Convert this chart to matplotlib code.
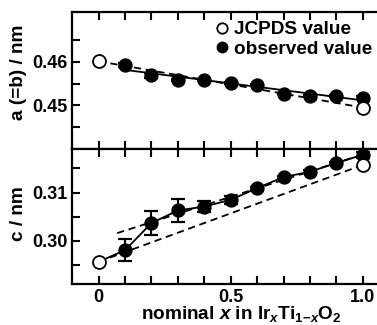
import numpy as np
import matplotlib
matplotlib.use("Agg")
import matplotlib.pyplot as plt
from matplotlib.lines import Line2D

plt.rcParams['font.family'] = ['Liberation Sans', 'DejaVu Sans']
plt.rcParams['font.weight'] = 'bold'
plt.rcParams['mathtext.fontset'] = 'custom'
plt.rcParams['mathtext.rm'] = 'Liberation Sans:bold'
plt.rcParams['mathtext.it'] = 'Liberation Sans:bold:italic'
plt.rcParams['mathtext.bf'] = 'Liberation Sans:bold'

# ---- data ----
x_obs = [0.1, 0.2, 0.3, 0.4, 0.5, 0.6, 0.7, 0.8, 0.9, 1.0]
a_obs = [0.4592, 0.4569, 0.4558, 0.4558, 0.4552, 0.4547, 0.4527, 0.4522, 0.4521, 0.4518]
a_err = [0.0005, 0.0006, 0.0003, 0.0003, 0.0002, 0.0002, 0.0002, 0.0002, 0.0002, 0.0003]
c_obs = [0.2981, 0.3037, 0.3063, 0.3071, 0.3085, 0.3109, 0.3132, 0.3143, 0.3161, 0.3178]
c_err = [0.0022, 0.0025, 0.0024, 0.0012, 0.0008, 0.0003, 0.0003, 0.0003, 0.0003, 0.0006]
x_jcpds = [0.0, 1.0]
a_jcpds = [0.4601, 0.4495]
c_jcpds = [0.2957, 0.3157]
legend_labels = ['JCPDS value', 'observed value']

x_obs = np.array(x_obs)
fig = plt.figure(figsize=(3.77, 3.25), dpi=100)
L, R = 72/377, 1.0
ax1 = fig.add_axes([L, 1-149/325, R-L, (149-12)/325])
ax2 = fig.add_axes([L, 1-284/325, R-L, (284-149)/325])

lw = 1.3
ms = 9.3
dash = (0, (4, 2.6))

# top panel
ax1.plot(x_jcpds, a_jcpds, color='black', lw=lw, ls=dash, zorder=1)
p = np.polyfit(x_obs, a_obs, 1)
xs = np.array([x_obs[0], x_obs[-1]])
ax1.plot(xs, np.polyval(p, xs), color='black', lw=lw, zorder=1)
ax1.errorbar(x_obs, a_obs, yerr=a_err, fmt='o', color='black', ms=ms,
             capsize=5.2, elinewidth=1.5, capthick=1.6, zorder=3)
ax1.plot(x_jcpds, a_jcpds, 'o', mfc='white', mec='black', mew=1.3, ms=ms, zorder=4)

# bottom panel
ax2.plot(x_jcpds, c_jcpds, color='black', lw=lw, ls=dash, zorder=1)
pc = np.polyfit(x_obs[1:], c_obs[1:], 1)
xs2 = np.array([0.07, 1.0])
ax2.plot(xs2, np.polyval(pc, xs2), color='black', lw=lw, ls=dash, zorder=1)
ax2.plot([x_jcpds[0]] + list(x_obs), [c_jcpds[0]] + list(c_obs), color='black', lw=lw, zorder=1)
ax2.errorbar(x_obs, c_obs, yerr=c_err, fmt='o', color='black', ms=ms,
             capsize=5.2, elinewidth=1.5, capthick=1.6, zorder=3)
ax2.plot(x_jcpds, c_jcpds, 'o', mfc='white', mec='black', mew=1.3, ms=ms, zorder=4)

for ax in (ax1, ax2):
    ax.set_xlim(-0.101, 1.054)
    ax.set_xticks([0, 0.5, 1.0])
    ax.set_xticks(np.arange(0, 1.01, 0.1), minor=True)
    ax.tick_params(which='both', direction='in', top=True, right=False, width=1.5,
                   labelsize=13, length=6)
    ax.spines['right'].set_visible(False)
    for s in ('left', 'top', 'bottom'):
        ax.spines[s].set_linewidth(1.6)

ax1.set_ylim(0.440, 0.4714)
ax1.set_yticks([0.45, 0.46])
ax1.set_yticks([0.445, 0.455, 0.465], minor=True)
ax1.set_yticklabels(['0.45', '0.46'])
ax1.tick_params(labelbottom=False)
ax1.set_ylabel('a (=b) / nm', fontsize=13.7, fontweight='bold')
ax1.yaxis.set_label_coords(-0.148, 0.562)

ax2.set_ylim(0.2911, 0.319)
ax2.set_yticks([0.30, 0.31])
ax2.set_yticks([0.295, 0.305, 0.315], minor=True)
ax2.set_yticklabels(['0.30', '0.31'])
ax2.set_xticklabels(['0', '0.5', '1.0'])
ax2.set_ylabel('c / nm', fontsize=13.7, fontweight='bold')
ax2.yaxis.set_label_coords(-0.148, 0.52)
ax2.set_xlabel('nominal $x$ in Ir$_{x}$Ti$_{1{-}x}$O$_{2}$', fontsize=13.7, fontweight='bold', labelpad=-1)
ax2.xaxis.label.set_x(0.557)

handles = [Line2D([], [], ls='none', marker='o', mfc='white', mec='black', mew=1.3, ms=7.5),
           Line2D([], [], ls='none', marker='o', color='black', ms=7.5)]
leg = ax1.legend(handles, legend_labels, loc='upper left', frameon=False,
                 fontsize=13.7, handlelength=0.8, handletextpad=0.25,
                 borderaxespad=0, labelspacing=0.1, borderpad=0,
                 bbox_to_anchor=(214/377, 1 - 21/325), bbox_transform=fig.transFigure)
for t in leg.get_texts():
    t.set_fontweight('bold')

fig.savefig('out.png', dpi=100)
